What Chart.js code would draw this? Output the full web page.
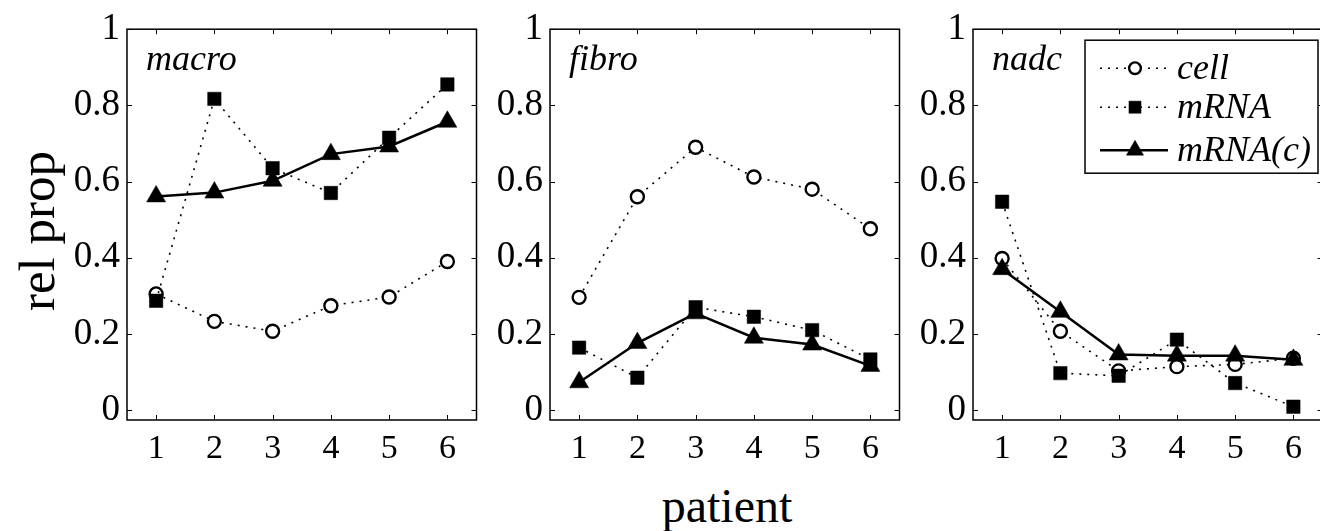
<!DOCTYPE html>
<html>
<head>
<meta charset="utf-8">
<script src="https://cdn.jsdelivr.net/npm/chart.js@4.4.1/dist/chart.umd.min.js"></script>
<style>
  html, body { margin: 0; padding: 0; background: #fff; }
  body { width: 1320px; height: 531px; overflow: hidden; position: relative; }
  canvas { position: absolute; top: 0; }
  .lbl { position: absolute; font-family: "Liberation Serif", serif; color: #000; white-space: nowrap; }
</style>
</head>
<body>
<canvas id="c1" width="431" height="470" style="left:57px"></canvas>
<canvas id="c2" width="431" height="470" style="left:480px"></canvas>
<canvas id="c3" width="431" height="470" style="left:903px"></canvas>
<div class="lbl" id="ylab" style="font-size:51px; left:37px; top:231px; transform: translate(-50%,-50%) rotate(-90deg);">rel prop</div>
<div class="lbl" id="xlab" style="font-size:48px; left:727px; top:505px; transform: translate(-50%,-50%);">patient</div>

<script>
// data
const patients = ['1', '2', '3', '4', '5', '6'];
const panelNames = ['macro', 'fibro', 'nadc'];
const seriesNames = ['cell', 'mRNA', 'mRNA(c)'];

const macroCell  = [0.305, 0.233, 0.207, 0.274, 0.297, 0.390];
const macroMrna  = [0.287, 0.817, 0.635, 0.570, 0.715, 0.855];
const macroMrnaC = [0.561, 0.571, 0.602, 0.672, 0.692, 0.757];

const fibroCell  = [0.296, 0.560, 0.690, 0.612, 0.580, 0.476];
const fibroMrna  = [0.164, 0.085, 0.270, 0.245, 0.210, 0.133];
const fibroMrnaC = [0.073, 0.176, 0.254, 0.190, 0.172, 0.116];

const nadcCell  = [0.398, 0.207, 0.103, 0.114, 0.120, 0.136];
const nadcMrna  = [0.547, 0.097, 0.090, 0.185, 0.071, 0.009];
const nadcMrnaC = [0.370, 0.258, 0.146, 0.143, 0.143, 0.132];

const yTicks = [0, 0.2, 0.4, 0.6, 0.8, 1];
const yTickLabels = ['0', '0.2', '0.4', '0.6', '0.8', '1'];

const FONT = '"Liberation Serif", "Times New Roman", serif';

function makeDatasets(cell, mrna, mrnac) {
    return [
        {
            label: seriesNames[0], data: cell, order: 3,
            borderColor: '#000', borderWidth: 1.6, borderDash: [2, 6],
            pointStyle: 'circle', pointRadius: 6.5, pointBorderWidth: 2.4,
            pointBackgroundColor: '#fff', pointBorderColor: '#000', tension: 0
        },
        {
            label: seriesNames[1], data: mrna, order: 2,
            borderColor: '#000', borderWidth: 1.6, borderDash: [2, 6],
            pointStyle: 'rect', pointRadius: 9.5, pointBorderWidth: 0.5,
            pointBackgroundColor: '#000', pointBorderColor: '#000', tension: 0
        },
        {
            label: seriesNames[2], data: mrnac, order: 1,
            borderColor: '#000', borderWidth: 2.5,
            pointStyle: 'triangle', pointRadius: 11, pointBorderWidth: 0.5,
            pointBackgroundColor: '#000', pointBorderColor: '#000', tension: 0
        }
    ];
}

// box, inward ticks on all sides, panel name, optional legend
const panelPlugin = {
    id: 'panel',
    afterDraw(chart, args, opts) {
        const ctx = chart.ctx;
        const a = chart.chartArea;
        const xs = chart.scales.x, ys = chart.scales.y;
        ctx.save();
        ctx.strokeStyle = '#000';
        ctx.lineWidth = 1.5;
        ctx.setLineDash([]);
        ctx.strokeRect(a.left, a.top, a.right - a.left, a.bottom - a.top);
        ctx.lineWidth = 1;
        ctx.beginPath();
        const tl = 5;
        xs.ticks.forEach((t, i) => {
            const px = Math.round(xs.getPixelForTick(i)) + 0.5;
            ctx.moveTo(px, a.bottom); ctx.lineTo(px, a.bottom - tl);
            ctx.moveTo(px, a.top); ctx.lineTo(px, a.top + tl);
        });
        yTicks.forEach(v => {
            const py = Math.round(ys.getPixelForValue(v)) + 0.5;
            ctx.moveTo(a.left, py); ctx.lineTo(a.left + tl, py);
            ctx.moveTo(a.right, py); ctx.lineTo(a.right - tl, py);
        });
        ctx.stroke();

        ctx.fillStyle = '#000';
        ctx.font = 'italic 36px ' + FONT;
        ctx.textBaseline = 'alphabetic';
        ctx.textAlign = 'left';
        ctx.fillText(opts.title, a.left + 19, a.top + 41);

        if (opts.legend) {
            const bx = a.left + 112, by = a.top + 11, bw = 233, bh = 133;
            ctx.fillStyle = '#fff';
            ctx.fillRect(bx, by, bw, bh);
            ctx.strokeStyle = '#000';
            ctx.lineWidth = 1.5;
            ctx.strokeRect(bx, by, bw, bh);
            const rows = [by + 28, by + 67, by + 110];
            chart.data.datasets.forEach((ds, i) => {
                const y = rows[i];
                ctx.save();
                ctx.strokeStyle = '#000';
                ctx.lineWidth = ds.borderWidth;
                ctx.setLineDash(ds.borderDash || []);
                ctx.beginPath();
                ctx.moveTo(bx + 15, y);
                ctx.lineTo(bx + 83, y);
                ctx.stroke();
                ctx.setLineDash([]);
                ctx.fillStyle = ds.pointBackgroundColor;
                ctx.strokeStyle = ds.pointBorderColor;
                ctx.lineWidth = ds.pointBorderWidth;
                Chart.helpers.drawPoint(ctx, {
                    pointStyle: ds.pointStyle, radius: ds.pointRadius * 0.9,
                    rotation: 0, borderWidth: ds.pointBorderWidth
                }, bx + 50, y);
                ctx.restore();
                ctx.fillStyle = '#000';
                ctx.font = 'italic 36px ' + FONT;
                ctx.textBaseline = 'middle';
                ctx.fillText(ds.label, bx + 92, y + 1);
            });
        }
        ctx.restore();
    }
};

function makePanel(id, title, cell, mrna, mrnac, showLegend) {
    const canvas = document.getElementById(id);
    if (!canvas) { console.log(id + ' NOT found'); return; }
    new Chart(canvas.getContext('2d'), {
        type: 'line',
        data: { labels: patients, datasets: makeDatasets(cell, mrna, mrnac) },
        options: {
            responsive: false,
            animation: false,
            devicePixelRatio: 1,
            layout: { padding: { top: 24, right: 4, left: 0, bottom: 0 } },
            plugins: {
                legend: { display: false },
                tooltip: { enabled: false },
                panel: { title: title, legend: showLegend }
            },
            scales: {
                x: {
                    type: 'category',
                    offset: true,
                    grid: { display: false, drawTicks: false },
                    border: { display: false },
                    ticks: { color: '#000', font: { family: FONT, size: 34 }, padding: 9, maxRotation: 0 },
                    afterFit(scale) { scale.height = 50; }
                },
                y: {
                    min: -0.026, max: 1,
                    grid: { display: false, drawTicks: false },
                    border: { display: false },
                    afterBuildTicks(scale) { scale.ticks = yTicks.map(v => ({ value: v })); },
                    ticks: {
                        color: '#000', font: { family: FONT, size: 37 }, padding: 7,
                        callback: (v, i) => yTickLabels[i]
                    },
                    afterFit(scale) { scale.width = 70; }
                }
            }
        },
        plugins: [panelPlugin]
    });
}

document.addEventListener('DOMContentLoaded', function () {
    makePanel('c1', panelNames[0], macroCell, macroMrna, macroMrnaC, false);
    makePanel('c2', panelNames[1], fibroCell, fibroMrna, fibroMrnaC, false);
    makePanel('c3', panelNames[2], nadcCell, nadcMrna, nadcMrnaC, true);
});
</script>
</body>
</html>
